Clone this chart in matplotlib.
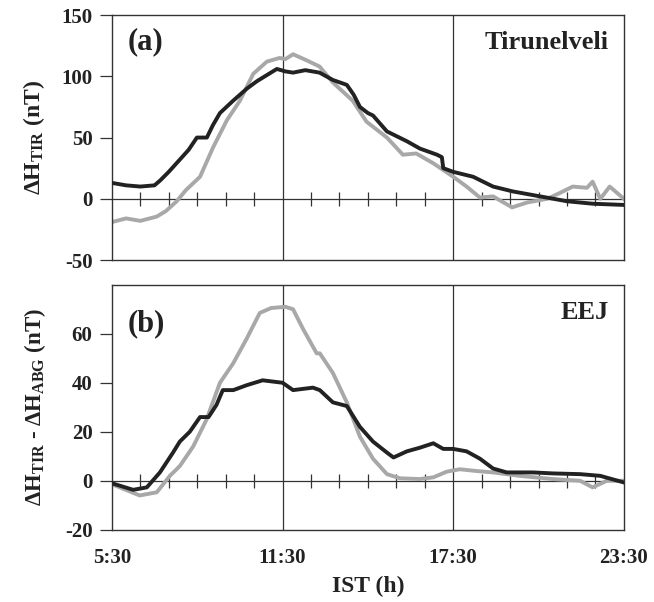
import numpy as np
import matplotlib
matplotlib.use("Agg")
import matplotlib.pyplot as plt

# Data (hours IST, nT)

# (a) Tirunelveli, dark curve
ta_dark = [5.5, 6.0, 6.5, 7.0, 7.2, 7.5, 7.89, 8.2, 8.49, 8.84, 9.05, 9.3, 9.76, 10.25, 10.6,
           10.95, 11.3, 11.6, 11.87, 12.3, 12.8, 13.27, 13.76, 14.0, 14.22, 14.5, 14.68,
           15.17, 15.87, 16.33, 16.93, 17.1, 17.15, 17.5, 18.2, 18.9, 19.6, 20.55, 21.5,
           22.4, 23.5]
ha_dark = [13, 11, 10, 11, 15, 22, 32, 40, 50, 50, 60, 70, 80, 90, 96,
           101, 106, 104, 103, 105, 103, 97, 93, 85, 75, 70, 68,
           55, 47, 41, 36, 34, 25, 22, 18, 10, 6, 2, -2,
           -4, -5]

# (a) Tirunelveli, grey curve
ta_grey = [5.5, 6.0, 6.5, 7.08, 7.4, 7.78, 8.1, 8.6, 9.06, 9.54, 10.0, 10.47, 10.95, 11.4,
           11.6, 11.87, 12.35, 12.8, 13.27, 13.97, 14.45, 15.17, 15.73, 16.2, 16.8, 17.5,
           17.97, 18.44, 18.9, 19.57, 20.1, 20.8, 21.27, 21.7, 22.2, 22.4, 22.67, 23.0, 23.5]
ha_grey = [-19, -16, -18, -14.5, -10, -2, 7, 18, 42, 64, 80, 102, 112, 115,
           114, 118, 113, 108, 95, 80, 63, 50, 36, 37, 29, 18,
           10, 1, 2, -7, -3, 0, 5, 10, 9, 14, 0, 10, 0]

# (b) EEJ, dark curve
tb_dark = [5.5, 6.25, 6.73, 7.19, 7.65, 7.89, 8.24, 8.6, 8.9, 9.18, 9.4, 9.77, 10.24, 10.8,
           11.5, 11.87, 12.57, 12.81, 13.27, 13.76, 14.22, 14.68, 15.17, 15.4, 15.87, 16.33,
           16.8, 17.15, 17.5, 17.97, 18.44, 18.9, 19.38, 20.3, 21.0, 21.96, 22.67, 23.5]
hb_dark = [-1, -3.7, -2.7, 3.4, 11.5, 16, 20, 26, 26, 31, 37, 37, 39, 41,
           40, 37, 38, 37, 32, 30.5, 22, 16, 11.5, 9.5, 12, 13.5,
           15.3, 13, 13, 12, 9, 5, 3.4, 3.4, 3, 2.7, 2, -0.7]

# (b) EEJ, grey curve
tb_grey = [5.5, 6.48, 7.08, 7.54, 7.89, 8.36, 8.83, 9.3, 9.77, 10.24, 10.7, 11.1, 11.6, 11.87,
           12.22, 12.7, 12.81, 13.27, 13.76, 14.22, 14.68, 15.17, 15.63, 16.33, 16.8, 17.27,
           17.73, 18.3, 18.9, 19.84, 21.0, 21.96, 22.4, 22.9, 23.5]
hb_grey = [-1.4, -6, -4.7, 2, 6, 14, 25, 40, 48, 58, 68.5, 70.5, 71, 70,
           62, 52, 52, 44, 32, 18, 9, 2.7, 1, 0.7, 1.4, 3.7,
           4.7, 4, 3.4, 2, 0.7, 0, -2.7, 0, 0]

hour_marks = [6.5, 7.5, 8.5, 9.5, 10.5, 12.5, 13.5, 14.5, 15.5, 16.5,
              18.5, 19.5, 20.5, 21.5, 22.5]
xtick_pos = [5.5, 11.5, 17.5, 23.5]
xtick_lab = ["5:30", "11:30", "17:30", "23:30"]

plt.rcParams['font.family'] = ['Liberation Serif', 'DejaVu Serif']
plt.rcParams['font.weight'] = 'bold'
plt.rcParams['mathtext.fontset'] = 'custom'
plt.rcParams['mathtext.rm'] = 'Liberation Serif:bold'
plt.rcParams['mathtext.it'] = 'Liberation Serif:bold'
plt.rcParams['mathtext.bf'] = 'Liberation Serif:bold'

dark = '#222222'
grey = '#a8a8a8'
edge = '#333333'

fig = plt.figure(figsize=(6.54, 6.02), dpi=100)
ax1 = fig.add_axes([0.171, 0.568, 0.783, 0.407])
ax2 = fig.add_axes([0.171, 0.120, 0.783, 0.407])


def style(ax, ylim, yticks):
    ax.set_xlim(5.5, 23.5)
    ax.set_ylim(*ylim)
    ax.set_yticks(yticks)
    ax.set_yticklabels([str(v) for v in yticks], fontsize=15, fontweight='bold', color=dark)
    ax.axhline(0, color=edge, lw=0.9, zorder=1)
    for v in [11.5, 17.5]:
        ax.axvline(v, color=edge, lw=0.9, zorder=1)
    ax.plot(hour_marks, np.zeros(len(hour_marks)), ls='none', marker='|',
            ms=10, mew=0.9, color=edge, zorder=1)
    for s in ax.spines.values():
        s.set_color(edge)
        s.set_linewidth(1.0)
    ax.tick_params(axis='y', direction='out', length=9, width=0.9, color=edge, pad=5)
    ax.tick_params(axis='x', length=0, pad=13)


ax1.plot(ta_grey, ha_grey, color=grey, lw=2.8, zorder=2)
ax1.plot(ta_dark, ha_dark, color=dark, lw=2.8, zorder=3)
style(ax1, (-50, 150), [-50, 0, 50, 100, 150])
ax1.set_xticks([])
ax1.text(0.03, 0.86, "(a)", transform=ax1.transAxes, fontsize=22, fontweight='bold', color=dark)
ax1.text(0.97, 0.86, "Tirunelveli", transform=ax1.transAxes, fontsize=19, fontweight='bold',
         ha='right', color=dark)
ax1.set_ylabel(r"$\Delta$H$_{\rm TIR}$ (nT)", fontsize=17, fontweight='bold', color=dark, labelpad=10)

ax2.plot(tb_grey, hb_grey, color=grey, lw=2.8, zorder=2)
ax2.plot(tb_dark, hb_dark, color=dark, lw=2.8, zorder=3)
style(ax2, (-20, 80), [-20, 0, 20, 40, 60])
ax2.set_xticks(xtick_pos)
ax2.set_xticklabels(xtick_lab, fontsize=15, fontweight='bold', color=dark)
ax2.text(0.03, 0.81, "(b)", transform=ax2.transAxes, fontsize=22, fontweight='bold', color=dark)
ax2.text(0.97, 0.86, "EEJ", transform=ax2.transAxes, fontsize=19, fontweight='bold',
         ha='right', color=dark)
ax2.set_ylabel(r"$\Delta$H$_{\rm TIR}$ - $\Delta$H$_{\rm ABG}$ (nT)", fontsize=16.5,
               fontweight='bold', color=dark, labelpad=12)
ax2.set_xlabel("IST (h)", fontsize=17, fontweight='bold', color=dark, labelpad=6)

fig.savefig("out.png", dpi=100)
